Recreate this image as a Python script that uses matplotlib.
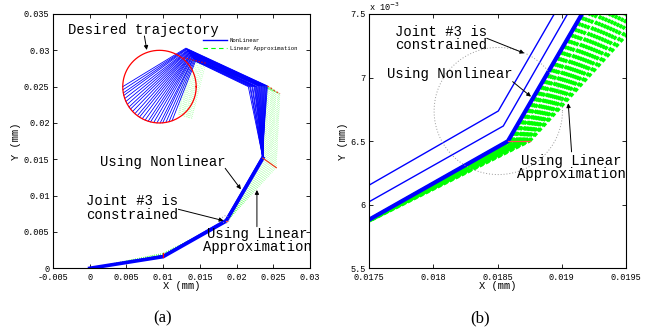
import numpy as np
import matplotlib.pyplot as plt
from matplotlib.lines import Line2D
from matplotlib.ticker import FuncFormatter

MONO = 'Liberation Mono'

# desired trajectory (circle) and a joint-limit circle shown in (b)
traj_center = (0.0095, 0.025)
traj_radius = 0.005
limit_center = (0.018505, 0.006737)
limit_radius = 0.0005

# nonlinear solution: joints of every configuration
nl_j1_x = [0.01] * 24
nl_j1_y = [0.00181, 0.00175] + [0.0016] * 22
nl_j2_x = [0.018505, 0.018544] + [0.01858] * 22
nl_j2_y = [0.006737, 0.006619] + [0.0065] * 22
nl_j3_x = [0.02347, 0.02348] + [0.02358] * 22
nl_j3_y = [0.01542, 0.01531] + [0.01516] * 22
nl_j4_x = [0.0242, 0.0241, 0.0240, 0.0239, 0.0238, 0.0237, 0.0236, 0.0235,
           0.0234, 0.0233, 0.0232, 0.0231, 0.0230, 0.0229, 0.0228, 0.0227,
           0.0226, 0.0225, 0.0224, 0.0222, 0.0221, 0.0219, 0.0218, 0.0216]
nl_j4_y = [0.0251, 0.0251, 0.0251, 0.0251, 0.0251, 0.0251, 0.0251, 0.0251,
           0.0251, 0.0251, 0.0251, 0.0251, 0.0251, 0.0251, 0.0250, 0.0250,
           0.0250, 0.0250, 0.0250, 0.0250, 0.0250, 0.0250, 0.0250, 0.0250]
nl_j5_x = [0.0131, 0.0131, 0.0132, 0.0132, 0.0133, 0.0133, 0.0134, 0.0134,
           0.0135, 0.0135, 0.0136, 0.0136, 0.0137, 0.0137, 0.0138, 0.0138,
           0.0139, 0.0139, 0.0140, 0.0141, 0.0141, 0.0142, 0.0143, 0.0144]
nl_j5_y = [0.0303, 0.0302, 0.0302, 0.0301, 0.0300, 0.0299, 0.0299, 0.0298,
           0.0297, 0.0296, 0.0296, 0.0295, 0.0294, 0.0293, 0.0293, 0.0292,
           0.0291, 0.0290, 0.0290, 0.0289, 0.0288, 0.0287, 0.0286, 0.0285]
nl_tip_deg = [180, 185, 190, 194, 199, 204, 209, 214, 218, 223, 228, 233,
              237, 242, 247, 252, 256, 261, 266, 271, 275, 280, 285, 290]

# linear approximation: joints of every configuration
li_j1_x = [0.01] * 16
li_j1_y = [0.00160, 0.00163, 0.00167, 0.00170, 0.00173, 0.00177, 0.00180, 0.00183,
           0.00187, 0.00190, 0.00193, 0.00197, 0.00200, 0.00203, 0.00207, 0.00210]
li_j2_x = [0.01858, 0.01859, 0.01860, 0.01861, 0.01862, 0.01864, 0.01865, 0.01866,
           0.01867, 0.01868, 0.01869, 0.01870, 0.01871, 0.01872, 0.01874, 0.01875]
li_j2_y = [0.0065] * 16
li_j3_x = [0.02358, 0.02370, 0.02382, 0.02394, 0.02406, 0.02419, 0.02431, 0.02443,
           0.02455, 0.02467, 0.02479, 0.02491, 0.02503, 0.02516, 0.02528, 0.02540]
li_j3_y = [0.01516, 0.01507, 0.01499, 0.01490, 0.01481, 0.01472, 0.01464, 0.01455,
           0.01446, 0.01438, 0.01429, 0.01420, 0.01411, 0.01403, 0.01394, 0.01385]
li_j4_x = [0.0242, 0.0243, 0.0244, 0.0245, 0.0247, 0.0248, 0.0249, 0.0250,
           0.0251, 0.0252, 0.0253, 0.0254, 0.0256, 0.0257, 0.0258, 0.0259]
li_j4_y = [0.0251, 0.0250, 0.0250, 0.0249, 0.0248, 0.0247, 0.0247, 0.0246,
           0.0245, 0.0244, 0.0244, 0.0243, 0.0242, 0.0241, 0.0241, 0.0240]
li_j5_x = [0.0128, 0.0130, 0.0132, 0.0134, 0.0136, 0.0138, 0.0140, 0.0142,
           0.0144, 0.0146, 0.0148, 0.0150, 0.0152, 0.0154, 0.0156, 0.0158]
li_j5_y = [0.0290, 0.0289, 0.0289, 0.0288, 0.0288, 0.0287, 0.0287, 0.0286,
           0.0286, 0.0285, 0.0285, 0.0284, 0.0284, 0.0283, 0.0283, 0.0282]
li_e_x = [0.0121, 0.0122, 0.0123, 0.0125, 0.0126, 0.0127, 0.0128, 0.0129,
          0.0131, 0.0132, 0.0133, 0.0134, 0.0135, 0.0136, 0.0138, 0.0139]
li_e_y = [0.0210, 0.0210, 0.0210, 0.0209, 0.0209, 0.0209, 0.0208, 0.0208,
          0.0208, 0.0208, 0.0207, 0.0207, 0.0207, 0.0206, 0.0206, 0.0206]


def draw_arms(ax, lw_thin, lw_thick, lw_green, green_ls, green_alpha):
    # linear approximation (green, dotted), link by link
    for k in range(len(li_e_x)):
        xs = [0, li_j1_x[k], li_j2_x[k], li_j3_x[k], li_j4_x[k], li_j5_x[k], li_e_x[k]]
        ys = [0, li_j1_y[k], li_j2_y[k], li_j3_y[k], li_j4_y[k], li_j5_y[k], li_e_y[k]]
        for i in range(len(xs) - 1):
            ax.plot(xs[i:i + 2], ys[i:i + 2], color='#00ff00', lw=lw_green,
                    ls=green_ls, alpha=green_alpha)
    # nonlinear (blue)
    cx, cy = traj_center
    for k in range(len(nl_tip_deg)):
        a = np.deg2rad(nl_tip_deg[k])
        tx = cx + traj_radius * np.cos(a)
        ty = cy + traj_radius * np.sin(a)
        xs = [0, nl_j1_x[k], nl_j2_x[k], nl_j3_x[k], nl_j4_x[k], nl_j5_x[k], tx]
        ys = [0, nl_j1_y[k], nl_j2_y[k], nl_j3_y[k], nl_j4_y[k], nl_j5_y[k], ty]
        ax.plot(xs, ys, color='blue', lw=lw_thin)
    ax.plot([0, nl_j1_x[2], nl_j2_x[2], nl_j3_x[2]],
            [0, nl_j1_y[2], nl_j2_y[2], nl_j3_y[2]], color='blue', lw=lw_thick)
    # joint paths of the linear approximation
    ax.plot(li_j1_x, li_j1_y, color='red', lw=0.9)
    ax.plot(li_j2_x, li_j2_y, color='#ff5050', lw=0.9)
    ax.plot(li_j3_x, li_j3_y, color='#e8401c', lw=0.9)
    ax.plot(li_j4_x, li_j4_y, color='#e8401c', lw=0.9, ls=(0, (1.5, 1.5)))
    ax.plot(li_j5_x, li_j5_y, color='red', lw=0.9, ls=(0, (1, 1.5)))
    # desired trajectory
    t = np.linspace(0, 2 * np.pi, 241)
    ax.plot(cx + traj_radius * np.cos(t), cy + traj_radius * np.sin(t), color='red', lw=0.9)
    ax.plot(limit_center[0] + limit_radius * np.cos(t),
            limit_center[1] + limit_radius * np.sin(t), color='0.6', lw=0.7, ls=(0, (1, 2)))


def style(ax):
    ax.tick_params(direction='in', top=True, right=True, length=3, width=0.6,
                   labelsize=6.2, pad=2.5)
    ax.tick_params(axis='x', pad=3.5)
    for lab in ax.get_xticklabels() + ax.get_yticklabels():
        lab.set_family(MONO)
    for s in ax.spines.values():
        s.set_linewidth(0.8)
    ax.set_xlabel('X (mm)', family=MONO, fontsize=7.5, labelpad=-1)
    ax.set_ylabel('Y (mm)', family=MONO, fontsize=7.5, labelpad=2)


def arrow(ax, tail, tip):
    ax.annotate('', xy=tip, xytext=tail,
                arrowprops=dict(arrowstyle='-|>', lw=0.7, color='k',
                                mutation_scale=6, shrinkA=0, shrinkB=0))


fig = plt.figure(figsize=(6.55, 3.3), dpi=100)
axa = fig.add_axes([0.0809, 0.187, 0.3924, 0.7706])
axb = fig.add_axes([0.5638, 0.187, 0.3919, 0.7706])

# ---- (a)
draw_arms(axa, 0.6, 2.6, 0.4, (0, (1, 2.5)), 0.6)
axa.set_xlim(-0.005, 0.03)
axa.set_ylim(0, 0.035)
axa.set_xticks(np.arange(-0.005, 0.0301, 0.005))
axa.set_yticks(np.arange(0, 0.0351, 0.005))
axa.xaxis.set_major_formatter(FuncFormatter(lambda v, p: '%g' % round(v, 4)))
axa.yaxis.set_major_formatter(FuncFormatter(lambda v, p: '%g' % round(v, 4)))
style(axa)

txt = dict(family=MONO, fontsize=10, ha='center', va='center')
axa.text(0.00734, 0.0328, 'Desired trajectory', **txt)
arrow(axa, (0.00745, 0.03197), (0.00777, 0.03005))
axa.text(0.00993, 0.01459, 'Using Nonlinear', **txt)
arrow(axa, (0.01845, 0.01376), (0.02059, 0.01087))
axa.text(0.00577, 0.0083, 'Joint #3 is\nconstrained', multialignment='left',
         linespacing=0.95, **txt)
arrow(axa, (0.01208, 0.00812), (0.01822, 0.00655))
axa.text(0.02288, 0.0038, 'Using Linear\nApproximation', multialignment='center',
         linespacing=0.95, **txt)
arrow(axa, (0.02277, 0.00573), (0.02277, 0.01078))

handles = [Line2D([], [], color='blue', lw=1.0),
           Line2D([], [], color='#00ff00', lw=0.8, ls=(0, (4, 3)))]
axa.legend(handles, ['NonLinear', 'Linear Approximation'], loc='upper left',
           bbox_to_anchor=(0.584, 0.905), frameon=False, borderaxespad=0,
           borderpad=0, handlelength=4.2, handletextpad=0.5, labelspacing=0.45,
           prop={'family': MONO, 'size': 4.1})

# ---- (b)
draw_arms(axb, 1.0, 3.0, 2.2, (0, (1.3, 0.9)), 1.0)
axb.set_xlim(0.0175, 0.0195)
axb.set_ylim(0.0055, 0.0075)
axb.set_xticks([0.0175, 0.018, 0.0185, 0.019, 0.0195])
axb.set_yticks([0.0055, 0.006, 0.0065, 0.007, 0.0075])
axb.xaxis.set_major_formatter(FuncFormatter(lambda v, p: '%g' % round(v, 5)))
axb.yaxis.set_major_formatter(FuncFormatter(lambda v, p: '%g' % round(v * 1000, 2)))
style(axb)
axb.text(0.0, 1.004, 'x 10$^{-3}$', transform=axb.transAxes, family=MONO,
         fontsize=6.2, ha='left', va='bottom')

axb.text(0.018057, 0.007306, 'Joint #3 is\nconstrained', multialignment='left',
         linespacing=0.95, **txt)
arrow(axb, (0.018415, 0.007309), (0.018708, 0.007191))
axb.text(0.018127, 0.007028, 'Using Nonlinear', **txt)
arrow(axb, (0.018617, 0.006968), (0.01876, 0.00685))
axb.text(0.019072, 0.006293, 'Using Linear\nApproximation', multialignment='center',
         linespacing=0.95, **txt)
arrow(axb, (0.019076, 0.006416), (0.01905, 0.006798))

fig.text(163 / 655, 1 - 318 / 330, '(a)', family='Liberation Serif', fontsize=12,
         ha='center', va='center')
fig.text(480 / 655, 1 - 318 / 330, '(b)', family='Liberation Serif', fontsize=12,
         ha='center', va='center')

fig.savefig('out.png', dpi=100)
